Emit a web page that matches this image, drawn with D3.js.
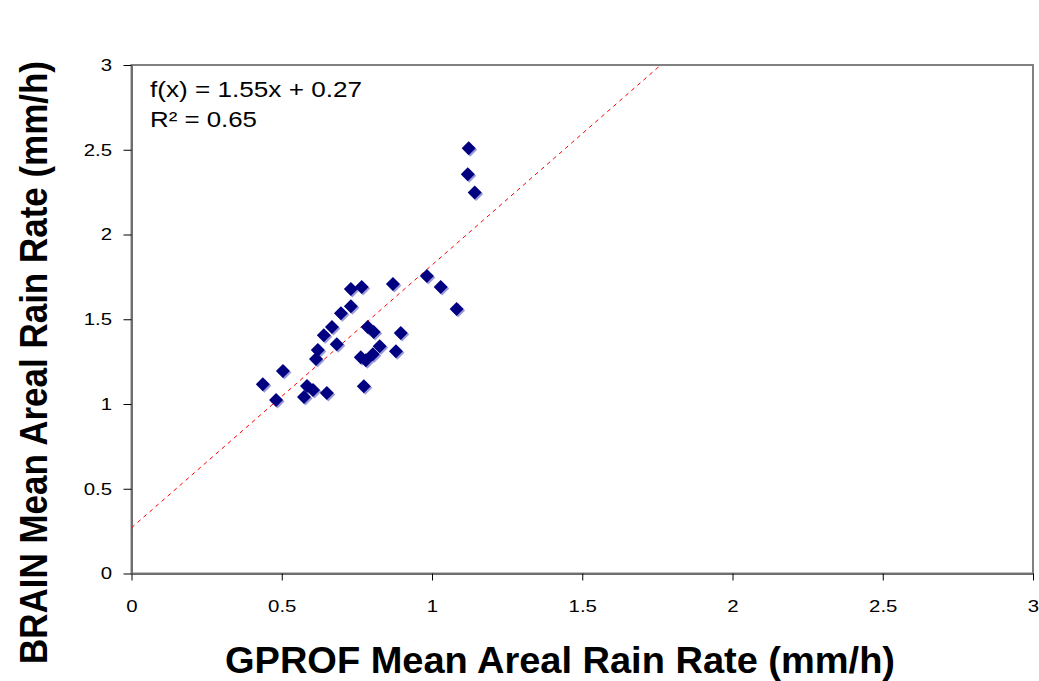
<!DOCTYPE html>
<html><head><meta charset="utf-8">
<script src="https://cdn.jsdelivr.net/npm/d3@7"></script>
<style>body{margin:0;background:#fff}svg{display:block}</style>
</head><body>
<svg id="c" width="1039" height="681"></svg>
<script>
const gprof = [0.437,0.481,0.504,0.574,0.584,0.604,0.650,0.614,0.620,0.640,0.667,0.683,0.697,0.730,0.730,0.766,0.870,0.786,0.806,0.896,0.826,0.880,0.763,0.780,0.803,0.773,0.983,1.029,1.082,1.122,1.119,1.142];
const brain = [1.117,1.023,1.194,1.041,1.106,1.083,1.065,1.265,1.318,1.406,1.454,1.353,1.536,1.577,1.678,1.690,1.708,1.454,1.425,1.419,1.341,1.311,1.276,1.258,1.294,1.105,1.755,1.690,1.560,2.509,2.356,2.248];
const xTicks = [0,0.5,1,1.5,2,2.5,3];
const yTicks = [0,0.5,1,1.5,2,2.5,3];
const slope = 1.55, intercept = 0.27;
const eqText = "f(x) = 1.55x + 0.27";
const r2Text = "R² = 0.65";
const xTitle = "GPROF Mean Areal Rain Rate (mm/h)";
const yTitle = "BRAIN Mean Areal Rain Rate (mm/h)";

const svg = d3.select("#c");
const L=131.5, R=1033, T=65, B=573.5;
const x = d3.scaleLinear().domain([0,3]).range([L,R]);
const y = d3.scaleLinear().domain([0,3]).range([B,T]);
const font = "Liberation Sans, Arial, sans-serif";

// plot border
svg.append("rect").attr("x",L).attr("y",T).attr("width",R-L).attr("height",B-T)
  .attr("fill","none").attr("stroke","#808080").attr("stroke-width",2);

// axes
const xa = svg.append("g").attr("transform",`translate(0,${B})`)
  .call(d3.axisBottom(x).tickValues(xTicks).tickFormat(d=>String(d)).tickSize(7).tickSizeOuter(0));
const ya = svg.append("g").attr("transform",`translate(${L},0)`)
  .call(d3.axisLeft(y).tickValues(yTicks).tickFormat(d=>String(d)).tickSize(8).tickSizeOuter(0));
[xa,ya].forEach(g=>{
  g.select(".domain").attr("stroke","#6e6e6e").attr("stroke-width",2);
  g.selectAll(".tick line").attr("stroke","#000").attr("stroke-width",1);
  g.selectAll(".tick text").attr("font-family",font).attr("font-size",17).attr("fill","#000");
});
xa.selectAll(".tick text").attr("dy",0).attr("y",39).attr("transform","scale(1.2,1)");
ya.selectAll(".tick text").attr("x",-16.2).attr("transform","scale(1.2,1)");

// trendline
const xEnd = (3-intercept)/slope;
svg.append("line").attr("x1",x(0)).attr("y1",y(intercept)).attr("x2",x(xEnd)).attr("y2",y(3))
  .attr("stroke","#ff0000").attr("stroke-width",1).attr("stroke-dasharray","4,4");

// points
const data = gprof.map((g,i)=>({g, b:brain[i]}));
const s = 7;
const dpath = `M0,${-s}L${s},0L0,${s}L${-s},0Z`;
const pts = svg.append("g");
pts.selectAll("path.sh").data(data).join("path").attr("class","sh")
  .attr("d",dpath).attr("transform",d=>`translate(${x(d.g)+1.5},${y(d.b)+1.5})`)
  .attr("fill","#9a9ad8");
pts.selectAll("path.mk").data(data).join("path").attr("class","mk")
  .attr("d",dpath).attr("transform",d=>`translate(${x(d.g)},${y(d.b)})`)
  .attr("fill","#000080");

// equation
svg.append("text").attr("x",150).attr("y",97).attr("font-family",font).attr("font-size",22)
  .attr("textLength",212).attr("lengthAdjust","spacingAndGlyphs").text(eqText);
svg.append("text").attr("x",150).attr("y",127).attr("font-family",font).attr("font-size",22)
  .attr("textLength",107).attr("lengthAdjust","spacingAndGlyphs").text(r2Text);

// titles
svg.append("text").attr("x",225).attr("y",673)
  .attr("font-family",font).attr("font-size",36).attr("font-weight","bold")
  .attr("textLength",670).attr("lengthAdjust","spacingAndGlyphs").text(xTitle);
svg.append("text").attr("transform",`translate(47,664) rotate(-90)`)
  .attr("font-family",font).attr("font-size",38).attr("font-weight","bold")
  .attr("textLength",603).attr("lengthAdjust","spacingAndGlyphs").text(yTitle);
</script>
</body></html>
